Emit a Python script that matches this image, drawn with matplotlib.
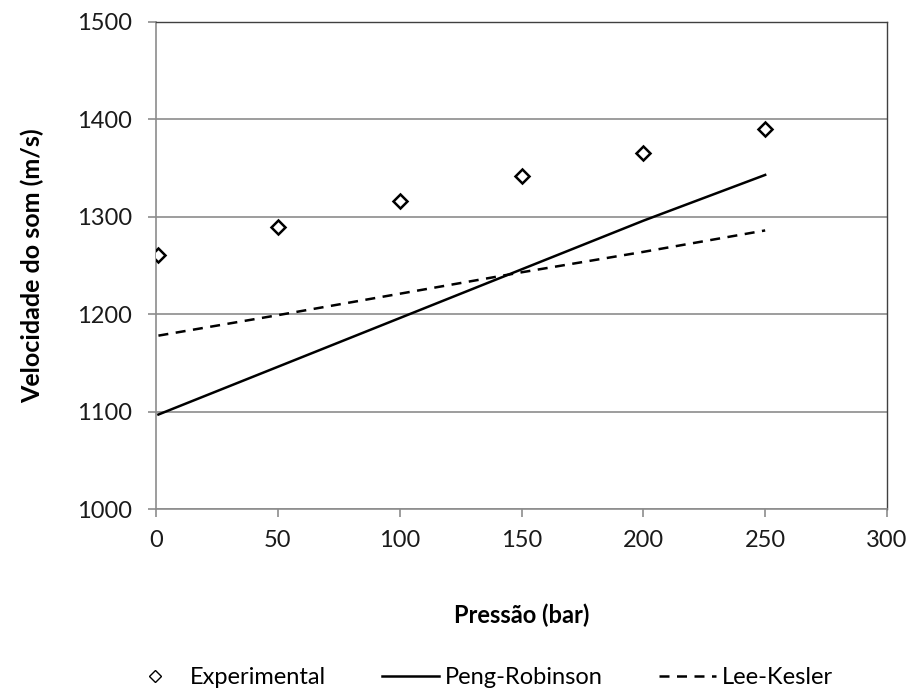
import matplotlib
matplotlib.use("Agg")
import matplotlib.pyplot as plt
from matplotlib.lines import Line2D

pressure = [1, 50, 100, 150, 200, 250]
experimental = [1261, 1290, 1316, 1342, 1366, 1390]
peng_robinson = [1097, 1146, 1196, 1246, 1296, 1343]
lee_kesler = [1178, 1199, 1221, 1243, 1264, 1286]

x_ticks = [0, 50, 100, 150, 200, 250, 300]
y_ticks = [1000, 1100, 1200, 1300, 1400, 1500]

plt.rcParams['font.family'] = ['Lato', 'DejaVu Sans']
FS = 17

fig = plt.figure(figsize=(9.12, 6.93), dpi=100)
ax = fig.add_axes([156/912, 1 - 509/693, (887-156)/912, (509-22)/693])

ax.plot(pressure, peng_robinson, color='black', lw=1.8, label='Peng-Robinson', zorder=3)
ax.plot(pressure, lee_kesler, color='black', lw=1.8, ls=(0, (4, 3)), label='Lee-Kesler', zorder=3)
ax.plot(pressure, experimental, ls='none', marker='D', markersize=7.5, markerfacecolor='white',
        markeredgecolor='black', markeredgewidth=1.8, label='Experimental', zorder=4)

ax.set_xlim(0, 300)
ax.set_ylim(1000, 1500)
ax.set_xticks(x_ticks)
ax.set_yticks(y_ticks)
ax.yaxis.grid(True, color='#8c8c8c', lw=1.2)
ax.set_axisbelow(True)

for s in ['left', 'bottom']:
    ax.spines[s].set_color('#8c8c8c')
    ax.spines[s].set_linewidth(1.2)
for s in ['top', 'right']:
    ax.spines[s].set_color('#404040')
    ax.spines[s].set_linewidth(1.0)

ax.tick_params(axis='both', direction='out', length=6, width=1.2, color='#8c8c8c',
               labelsize=FS, labelcolor='#1a1a1a')
ax.tick_params(axis='x', pad=9)
ax.tick_params(axis='y', pad=11)

ax.set_xlabel('Pressão (bar)', fontsize=FS, fontweight='bold', labelpad=38)
ax.set_ylabel('Velocidade do som (m/s)', fontsize=18, fontweight='bold', labelpad=24)

handles = [
    Line2D([], [], ls='none', marker='D', markersize=6.5, markerfacecolor='white',
           markeredgecolor='black', markeredgewidth=1.0),
    Line2D([], [], color='black', lw=1.8),
    Line2D([], [], color='black', lw=1.8, ls=(0, (4, 3))),
]
fig.legend(handles, ['Experimental', 'Peng-Robinson', 'Lee-Kesler'], loc='center',
           bbox_to_anchor=(480/912, 1 - 678/693), ncol=3, frameon=False, fontsize=FS,
           handlelength=2.4, columnspacing=2.4, handletextpad=0.25)

fig.savefig('out.png', dpi=100, facecolor='white')
